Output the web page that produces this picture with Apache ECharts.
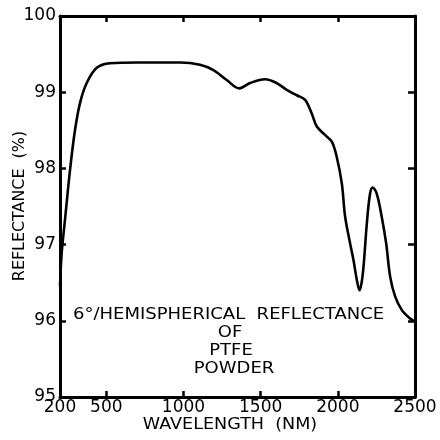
<!DOCTYPE html>
<html>
<head>
<meta charset="utf-8">
<script src="https://cdn.jsdelivr.net/npm/echarts@6/dist/echarts.min.js"></script>
<style>html,body{margin:0;padding:0;background:#fff;}#c{width:440px;height:440px;}</style>
</head>
<body>
<div id="c"></div>
<script>
const wavelengths = [200,211,232,265,297,330,373,438,524,700,978,1107,1194,1280,1362,1431,1529,1604,1669,1734,1788,1831,1864,1917,1961,1993,2026,2047,2079,2101,2123,2140,2162,2188,2209,2226,2252,2284,2313,2339,2371,2415,2468,2500];
const reflectance = [96.45,96.89,97.32,97.98,98.50,98.86,99.12,99.32,99.38,99.39,99.39,99.36,99.29,99.16,99.05,99.12,99.17,99.12,99.03,98.96,98.90,98.72,98.55,98.44,98.35,98.15,97.80,97.37,97.02,96.80,96.54,96.40,96.62,97.28,97.67,97.75,97.67,97.37,97.02,96.58,96.32,96.14,96.03,95.99];
const xTickLabels = [200,500,1000,1500,2000,2500];
const xTickMarks = [500,1000,1500,2000];
const yTickLabels = [95,96,97,98,99,100];
const annotation = ['6°/HEMISPHERICAL  REFLECTANCE','OF','PTFE','POWDER'];
const xTitle = 'WAVELENGTH  (NM)';
const yTitle = 'REFLECTANCE  (%)';

const FONT = 'DejaVu Sans';
const chart = echarts.init(document.getElementById('c'), null, {renderer:'canvas'});
const lineStyle = {color:'#000', width:3};
const annoPos = [[73,315,'left'],[230,333,'center'],[231,351,'center'],[234,369,'center']];
const graphics = annotation.map((t,i)=>({
  type:'text', x:annoPos[i][0], y:annoPos[i][1], scaleX:1.2,
  style:{x:0, y:0, text:t, fill:'#000', font:'15px "'+FONT+'"', textAlign:annoPos[i][2], textVerticalAlign:'middle'}
}));
graphics.push({
  type:'text', x:230, y:425, scaleX:1.17,
  style:{x:0, y:0, text:xTitle, fill:'#000', font:'15px "'+FONT+'"', textAlign:'center', textVerticalAlign:'middle'}
});
graphics.push({
  type:'text', x:20, y:206, rotation:Math.PI/2, scaleX:1.06,
  style:{x:0, y:0, text:yTitle, fill:'#000', font:'15px "'+FONT+'"', textAlign:'center', textVerticalAlign:'middle'}
});
chart.setOption({
  animation:false,
  backgroundColor:'#fff',
  grid:{left:60, right:25, top:16, bottom:43, containLabel:false, outerBoundsMode:'none'},
  xAxis:[{
    type:'value', min:200, max:2500, position:'bottom',
    axisLine:{show:true, onZero:false, lineStyle:lineStyle},
    axisTick:{show:true, inside:true, length:6, customValues:xTickMarks, lineStyle:{color:'#000', width:2.5}},
    axisLabel:{show:true, customValues:xTickLabels, margin:2, color:'#000', fontFamily:FONT, fontSize:17,
      formatter:v=>String(v)},
    splitLine:{show:false}
  },{
    type:'value', min:200, max:2500, position:'top',
    axisLine:{show:true, onZero:false, lineStyle:lineStyle},
    axisTick:{show:true, inside:true, length:6, customValues:xTickMarks, lineStyle:{color:'#000', width:2.5}},
    axisLabel:{show:false}, splitLine:{show:false}
  }],
  yAxis:[{
    type:'value', min:95, max:100, interval:1, position:'left',
    axisLine:{show:true, onZero:false, lineStyle:lineStyle},
    axisTick:{show:true, inside:true, length:6, lineStyle:{color:'#000', width:2.5}},
    axisLabel:{show:true, customValues:yTickLabels, margin:4, color:'#000', fontFamily:FONT, fontSize:17,
      formatter:v=>String(v)},
    splitLine:{show:false}
  },{
    type:'value', min:95, max:100, interval:1, position:'right',
    axisLine:{show:true, onZero:false, lineStyle:lineStyle},
    axisTick:{show:true, inside:true, length:7, lineStyle:{color:'#000', width:2.5}},
    axisLabel:{show:false}, splitLine:{show:false}
  }],
  graphic:graphics,
  series:[{
    type:'line', xAxisIndex:0, yAxisIndex:0,
    data: wavelengths.map((w,i)=>[w, reflectance[i]]),
    smooth:0.35, showSymbol:false, symbol:'none',
    lineStyle:{color:'#000', width:2.6}
  }]
});
</script>
</body>
</html>
